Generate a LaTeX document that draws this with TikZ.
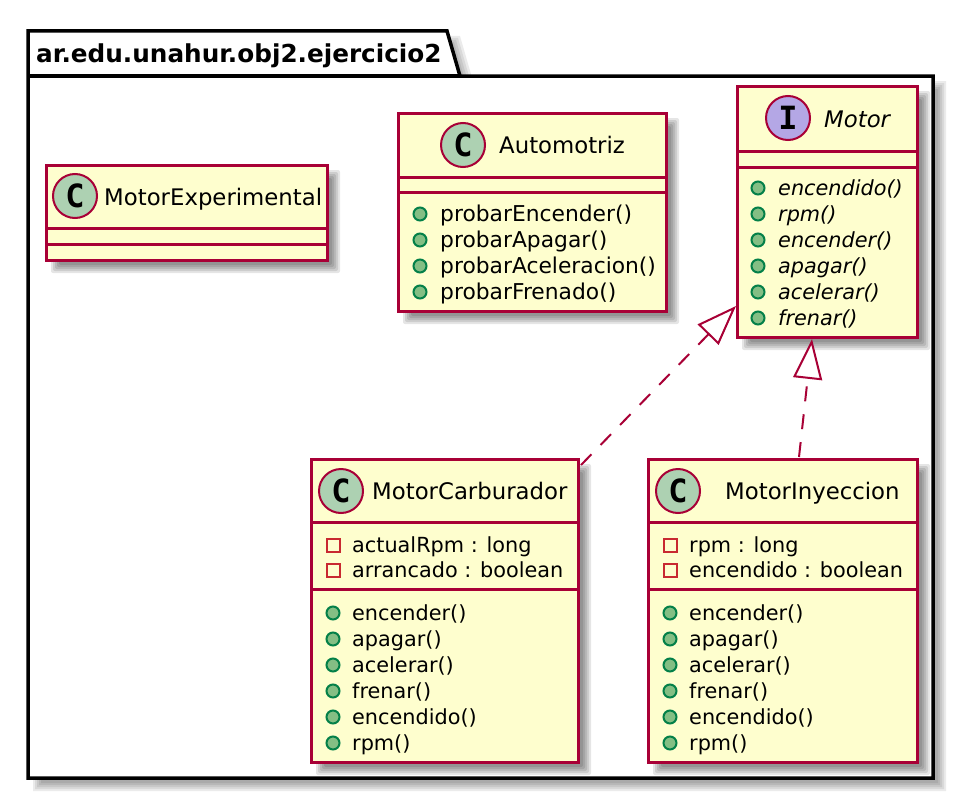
\documentclass[tikz,border=0pt]{standalone}
\usepackage{fontspec}
\setmainfont{DejaVu Sans}
\newfontfamily\glyphfont{DejaVu Sans Mono}
\usetikzlibrary{arrows.meta}
\definecolor{umlborder}{HTML}{A80036}
\definecolor{umlfill}{HTML}{FEFECE}
\definecolor{spotC}{HTML}{ADD1B2}
\definecolor{spotI}{HTML}{B4A7E5}
\definecolor{pubfill}{HTML}{84BE84}
\definecolor{publine}{HTML}{038048}
\definecolor{privline}{HTML}{C82930}
\newcounter{itemno}
\tikzset{
  umlclass/.style={draw=umlborder,fill=umlfill,line width=3pt,inner sep=0pt,outer sep=0pt,anchor=north west},
  sepline/.style={draw=umlborder,line width=3pt},
  spot/.style={circle,draw=umlborder,line width=2pt,minimum size=44pt,inner sep=0pt,outer sep=0pt},
  classname/.style={anchor=base west,inner sep=0pt,font=\fontsize{22.8}{26}\selectfont,text=black},
  membertext/.style={anchor=base west,inner sep=0pt,font=\fontsize{20.8}{24}\selectfont,text=black},
  pubmark/.style={circle,draw=publine,fill=pubfill,line width=2pt,minimum size=13pt,inner sep=0pt},
  privmark/.style={rectangle,draw=privline,line width=2pt,minimum size=13pt,inner sep=0pt},
  realize/.style={draw=umlborder,line width=2pt,dash pattern=on 15pt off 13pt,
    -{Triangle[length=40pt,width=29pt,fill=white,line width=2pt]}},
  pkgline/.style={draw=black,fill=white,line width=3.5pt,line join=miter},
}
% soft shadow of a rectangle
\newcommand{\softbox}[4]{%
  \foreach \k in {-4,-2,0,2,4}{%
    \fill[black,opacity=.1,rounded corners=2pt] (#1+9+\k,#2+9+\k) rectangle (#3+9-\k,#4+9-\k);}}
% class box: name x1 y1 x2 y2 sep1 sep2
\newcommand{\classbox}[7]{%
  \softbox{#2}{#3}{#4}{#5}%
  \pgfmathsetmacro{\bw}{#4-#2}\pgfmathsetmacro{\bh}{#5-#3}%
  \node[umlclass,minimum width=\bw pt,minimum height=\bh pt] (#1) at (#2,#3) {};
  \draw[sepline] (#2,#6) -- (#4,#6);
  \draw[sepline] (#2,#7) -- (#4,#7);}
\newcommand{\spotmark}[5]{% name x y color letter
  \node[spot,fill=#4] (#1s) at (#2,#3) {};
  \node[inner sep=0pt] (#1g) at (#2,#3) {\glyphfont\bfseries\fontsize{32}{32}\selectfont #5};}
\newcommand{\pubitem}[4]{% markx textx y text
  \stepcounter{itemno}%
  \node[pubmark] (mk\arabic{itemno}) at (#1,#3) {};
  \node[membertext] (tx\arabic{itemno}) at (#2,#3+7) {#4};}
\newcommand{\privitem}[4]{%
  \stepcounter{itemno}%
  \node[privmark] (mk\arabic{itemno}) at (#1,#3) {};
  \node[membertext] (tx\arabic{itemno}) at (#2,#3+7) {#4};}
\newcommand{\probefont}{\fontsize{21.8}{24}\selectfont}
\begin{document}
\begin{tikzpicture}[x=1pt,y=-1pt]
\useasboundingbox (0,0) rectangle (974,800);
% package
\foreach \k in {-4,-2,0,2,4}{%
  \fill[black,opacity=.08] (28+9+\k,31+9+\k) -- (447+9-\k,31+9+\k) -- (460+9-\k,76+9+\k) -- (933+9-\k,76+9+\k) -- (933+9-\k,778+9-\k) -- (28+9+\k,778+9-\k) -- cycle;}
\path[pkgline] (28,31) -- (447,31) -- (460,76) -- (933,76) -- (933,778) -- (28,778) -- cycle;
\draw[draw=black,line width=3.5pt] (28,76) -- (460,76);
\node[anchor=base west,inner sep=0pt,font=\fontsize{24.7}{28}\selectfont\bfseries] (pkgtitle) at (36,63) {ar.edu.unahur.obj2.ejercicio2};
% MotorExperimental
\classbox{exp}{46}{165}{327}{260}{228}{244}
\spotmark{exp}{75}{196}{spotC}{C}
\node[classname] (expname) at (104,205) {MotorExperimental};
% Automotriz
\classbox{aut}{398}{113}{666}{311}{177}{192}
\spotmark{aut}{463}{145}{spotC}{C}
\node[classname] (autname) at (499,153) {Automotriz};
\pubitem{420}{440}{214}{\probefont probarEncender()}
\pubitem{420}{440}{240}{\probefont probarApagar()}
\pubitem{420}{440}{266}{\probefont probarAceleracion()}
\pubitem{420}{440}{292}{\probefont probarFrenado()}
% Motor
\classbox{mot}{737}{86}{917}{337}{151}{167}
\spotmark{mot}{788}{118}{spotI}{I}
\node[classname] (motname) at (824,127) {\itshape Motor};
\pubitem{758}{778}{188}{\itshape encendido()}
\pubitem{758}{778}{214}{\itshape rpm()}
\pubitem{758}{778}{240}{\itshape encender()}
\pubitem{758}{778}{266}{\itshape apagar()}
\pubitem{758}{778}{292}{\itshape acelerar()}
\pubitem{758}{778}{318}{\itshape frenar()}
% MotorCarburador
\classbox{car}{311}{459}{578}{762}{522}{589}
\spotmark{car}{341}{491}{spotC}{C}
\node[classname] (carname) at (372,499) {MotorCarburador};
\privitem{333}{352}{545}{actualRpm : long}
\privitem{333}{352}{570}{arrancado : boolean}
\pubitem{333}{352}{613}{encender()}
\pubitem{333}{352}{639}{apagar()}
\pubitem{333}{352}{665}{acelerar()}
\pubitem{333}{352}{691}{frenar()}
\pubitem{333}{352}{717}{encendido()}
\pubitem{333}{352}{743}{rpm()}
% MotorInyeccion
\classbox{iny}{648}{459}{917}{762}{522}{589}
\spotmark{iny}{678}{491}{spotC}{C}
\node[classname] (inyname) at (725,499) {MotorInyeccion};
\privitem{670}{689}{545}{rpm : long}
\privitem{670}{689}{570}{encendido : boolean}
\pubitem{670}{689}{613}{encender()}
\pubitem{670}{689}{639}{apagar()}
\pubitem{670}{689}{665}{acelerar()}
\pubitem{670}{689}{691}{frenar()}
\pubitem{670}{689}{717}{encendido()}
\pubitem{670}{689}{743}{rpm()}
% connectors
\draw[realize] ([shift={(3,6)}]car.north east) -- ([shift={(-1,-31)}]mot.south west);
\draw[realize] ([shift={(151,-2)}]iny.north west) -- ([shift={(75,2)}]mot.south west);
\end{tikzpicture}
\end{document}
